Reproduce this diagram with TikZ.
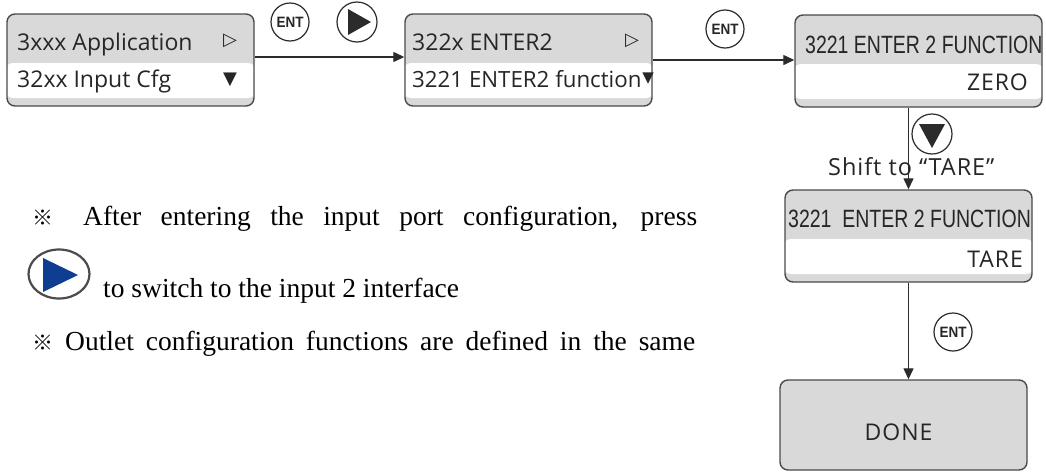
\documentclass[tikz,border=0pt]{standalone}
\usepackage{fontspec}
\setmainfont{Liberation Serif}
\newfontfamily\osans{Open Sans}
\newfontfamily\osansw[LetterSpace=4]{Open Sans}
\newfontfamily\narrowf[FakeStretch=0.78]{Liberation Sans}
\newfontfamily\entf[FakeStretch=0.9]{Liberation Sans}
\newfontfamily\symf{DejaVu Sans}
\newfontfamily\cjkf{Noto Sans CJK SC}
\newcommand\refmk{{\cjkf\fontsize{21}{21}\selectfont ※}}
\usetikzlibrary{arrows.meta,calc,shapes.geometric}
\definecolor{boxgray}{HTML}{D9D9D9}
\definecolor{edgecol}{HTML}{4A4A4A}
\definecolor{linecol}{HTML}{2B2B2B}
\definecolor{iconblue}{HTML}{0E3D91}
\definecolor{txtcol}{HTML}{262626}
\begin{document}
\begin{tikzpicture}[x=1pt,y=-1pt,
  lcd/.style={draw=edgecol, line width=1.4pt, rounded corners=8pt, fill=boxgray,
    minimum width=247pt, minimum height=92pt, inner sep=0pt,
    path picture={\fill[white] ($(path picture bounding box.north west)+(-2pt,-49pt)$) rectangle ($(path picture bounding box.south east)+(2pt,8pt)$);}},
  donebox/.style={draw=edgecol, line width=1.4pt, rounded corners=8pt, fill=boxgray,
    minimum width=247pt, minimum height=90pt, inner sep=0pt},
  lcdtxt/.style={font=\osans\fontsize{23}{23}\selectfont, inner sep=0pt, text=txtcol},
  widetxt/.style={font=\osansw\fontsize{23}{23}\selectfont, inner sep=0pt, text=txtcol},
  fntxt/.style={font=\narrowf\fontsize{25}{25}\selectfont, inner sep=0pt, text=txtcol},
  symtxt/.style={font=\symf\fontsize{18}{18}\selectfont, inner sep=0pt, text=txtcol},
  key/.style={circle, draw=linecol, line width=1.2pt, minimum size=38pt, inner sep=0pt,
    font=\entf\bfseries\fontsize{15}{15}\selectfont, text=txtcol},
  conn/.style={draw=linecol, line width=1.3pt, -{Triangle[length=11pt,width=10pt]}},
  para/.style={font=\fontsize{27.5}{27.5}\selectfont, inner sep=0pt, text=black}
]
\useasboundingbox (0,0) rectangle (1046,472);
\fill[white] (0,0) rectangle (1046,472);

% LCD boxes
\node[lcd] (b1) at (130.5,60) {};
\node[lcd] (b2) at (528.5,60) {};
\node[lcd] (b3) at (918.5,61) {};
\node[lcd] (b4) at (908.5,236) {};
\node[donebox] (b5) at (903.5,425) {};

% box texts
\node[lcdtxt, anchor=base west] (t1a) at (17,50) {3xxx Application};
\node[lcdtxt, anchor=base west] (t1b) at (17,87) {32xx Input Cfg};
\node[symtxt] (s1a) at (230,41) {▷};
\node[symtxt] (s1b) at (230,80) {▼};
\node[lcdtxt, anchor=base west] (t2a) at (412,50) {322x ENTER2};
\node[lcdtxt, anchor=base west, font=\osans\fontsize{22.3}{22.3}\selectfont] (t2b) at (412,87) {3221 ENTER2 function};
\node[symtxt, anchor=base west, font=\symf\fontsize{15}{15}\selectfont] (s2b) at ([xshift=0.5pt,yshift=5pt]t2b.base east) {▼};
\node[symtxt] (s2a) at (632,41) {▷};
\node[fntxt, anchor=base west] (t3a) at (805,53) {3221 ENTER 2 FUNCTION};
\node[widetxt, anchor=base east] (t3b) at (1028,90) {ZERO};
\node[fntxt, anchor=base west] (t4a) at (788,227) {3221\ \ ENTER 2 FUNCTION};
\node[widetxt, anchor=base east] (t4b) at (1023,267) {TARE};
\node[widetxt, anchor=base] (t5) at (898.5,440) {DONE};

% keys
\node[key] (k1) at (290,22) {ENT};
\node[key, minimum size=40pt] (k2) at (357,22) {};
\fill[linecol] ($(k2.center)+(-9pt,13pt)$) -- ($(k2.center)+(-9pt,-13pt)$) -- ($(k2.center)+(14pt,0pt)$) -- cycle;
\node[key] (k3) at (725,29) {ENT};
\node[key, minimum size=40pt] (k4) at (932,134) {};
\fill[linecol] ($(k4.center)+(-13pt,10pt)$) -- ($(k4.center)+(13pt,10pt)$) -- ($(k4.center)+(0pt,-14pt)$) -- cycle;
\node[key] (k5) at (953,332) {ENT};

% connectors
\coordinate (ya) at (0,57);
\coordinate (yb) at (0,60);
\draw[conn] (b1.east |- ya) -- (b2.west |- ya);
\draw[conn] (b2.east |- yb) -- (b3.west |- yb);
\draw[conn] (b3.south -| b4.north) -- (b4.north);
\draw[conn] (b4.south) -- (b4.south |- b5.north);

\node[widetxt, anchor=base west, font=\osansw\fontsize{23.5}{23.5}\selectfont] (sh) at (828,175) {Shift to “TARE”};

% left notes
\node[para, anchor=base west] (p1) at (32,225) {\makebox[665pt][s]{\refmk\hspace{30pt}After entering the input port configuration, press}};
\node[ellipse, draw=black!70, line width=2.2pt, minimum width=61pt, minimum height=49pt, inner sep=0pt] (icon) at (59,274) {};
\fill[iconblue] ($(icon.center)+(-16pt,16pt)$) -- ($(icon.center)+(-16pt,-18pt)$) -- ($(icon.center)+(19pt,-1pt)$) -- cycle;
\node[para, anchor=base west] (p2) at (103,297) {to switch to the input 2 interface};
\node[para, anchor=base west] (p3) at (32,350) {\makebox[663pt][s]{\refmk\hspace{12pt}Outlet configuration functions are defined in the same}};
\end{tikzpicture}
\end{document}
